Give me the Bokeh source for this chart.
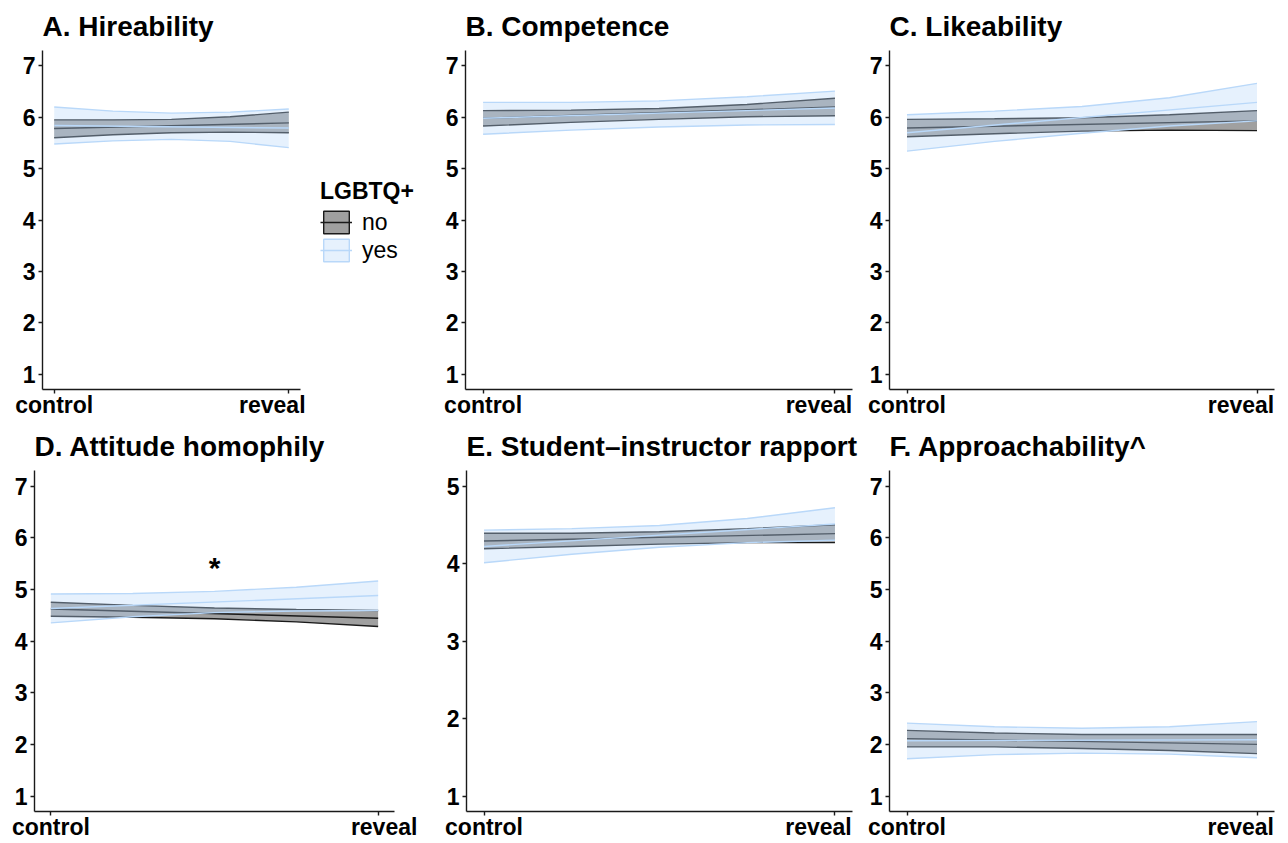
import numpy as np
from bokeh.plotting import figure
from bokeh.models import Range1d, FixedTicker, CustomJSTickFormatter, Legend, LegendItem
from bokeh.layouts import row, column
from bokeh.embed import file_html
from bokeh.resources import INLINE
from bokeh.core.properties import value

# ---------------- data ----------------
x_labels = ["control", "reveal"]
band_x = [0.0, 0.25, 0.5, 0.75, 1.0]
mean_x = [0.0, 1.0]
groups = ["no", "yes"]
legend_title = "LGBTQ+"

titles = ["A. Hireability", "B. Competence", "C. Likeability",
          "D. Attitude homophily", "E. Student\u2013instructor rapport", "F. Approachability^"]

y_ticks_7 = [1, 2, 3, 4, 5, 6, 7]
y_ticks_5 = [1, 2, 3, 4, 5]

# A. Hireability
a_no_lo = [5.60, 5.66, 5.70, 5.71, 5.70]
a_no_hi = [5.95, 5.95, 5.96, 6.01, 6.10]
a_no_mean = [5.78, 5.89]
a_yes_lo = [5.48, 5.54, 5.57, 5.53, 5.41]
a_yes_hi = [6.20, 6.12, 6.08, 6.10, 6.16]
a_yes_mean = [5.84, 5.79]

# B. Competence
b_no_lo = [5.83, 5.90, 5.96, 6.01, 6.03]
b_no_hi = [6.13, 6.14, 6.17, 6.25, 6.37]
b_no_mean = [5.98, 6.20]
b_yes_lo = [5.67, 5.75, 5.81, 5.85, 5.86]
b_yes_hi = [6.29, 6.29, 6.32, 6.40, 6.51]
b_yes_mean = [5.98, 6.18]

# C. Likeability
c_no_lo = [5.62, 5.68, 5.73, 5.75, 5.74]
c_no_hi = [5.96, 5.97, 5.99, 6.05, 6.13]
c_no_mean = [5.79, 5.93]
c_yes_lo = [5.34, 5.53, 5.69, 5.83, 5.93]
c_yes_hi = [6.05, 6.12, 6.21, 6.38, 6.66]
c_yes_mean = [5.70, 6.29]

# D. Attitude homophily
d_no_lo = [4.48, 4.46, 4.43, 4.37, 4.28]
d_no_hi = [4.75, 4.69, 4.64, 4.61, 4.59]
d_no_mean = [4.62, 4.44]
d_yes_lo = [4.35, 4.47, 4.55, 4.58, 4.59]
d_yes_hi = [4.91, 4.92, 4.96, 5.04, 5.16]
d_yes_mean = [4.63, 4.88]

# E. Student-instructor rapport
e_no_lo = [4.19, 4.22, 4.25, 4.27, 4.27]
e_no_hi = [4.39, 4.39, 4.41, 4.45, 4.50]
e_no_mean = [4.29, 4.385]
e_yes_lo = [4.01, 4.12, 4.21, 4.27, 4.30]
e_yes_hi = [4.43, 4.45, 4.49, 4.58, 4.72]
e_yes_mean = [4.22, 4.51]

# F. Approachability
f_no_lo = [1.95, 1.95, 1.92, 1.88, 1.82]
f_no_hi = [2.27, 2.22, 2.19, 2.19, 2.19]
f_no_mean = [2.11, 2.00]
f_yes_lo = [1.72, 1.80, 1.83, 1.81, 1.74]
f_yes_hi = [2.41, 2.34, 2.31, 2.34, 2.44]
f_yes_mean = [2.07, 2.09]

# significance marker in panel D
star_text = "*"
star_x = 0.5
star_y = 5.5

panels = [
    dict(title=titles[0], ticks=y_ticks_7, no=(a_no_lo, a_no_hi, a_no_mean), yes=(a_yes_lo, a_yes_hi, a_yes_mean)),
    dict(title=titles[1], ticks=y_ticks_7, no=(b_no_lo, b_no_hi, b_no_mean), yes=(b_yes_lo, b_yes_hi, b_yes_mean)),
    dict(title=titles[2], ticks=y_ticks_7, no=(c_no_lo, c_no_hi, c_no_mean), yes=(c_yes_lo, c_yes_hi, c_yes_mean)),
    dict(title=titles[3], ticks=y_ticks_7, no=(d_no_lo, d_no_hi, d_no_mean), yes=(d_yes_lo, d_yes_hi, d_yes_mean)),
    dict(title=titles[4], ticks=y_ticks_5, no=(e_no_lo, e_no_hi, e_no_mean), yes=(e_yes_lo, e_yes_hi, e_yes_mean)),
    dict(title=titles[5], ticks=y_ticks_7, no=(f_no_lo, f_no_hi, f_no_mean), yes=(f_yes_lo, f_yes_hi, f_yes_mean)),
]

# ---------------- style / layout ----------------
FONT = "Liberation Sans"
GREY_FILL = "#a0a0a0"
DARK = "#1a1a1a"
BLUE = "#b9d8f9"
BLUE_ALPHA = 0.36
LW = 1.4

# width, height, left, right, top, bottom borders, reveal label shift (px)
geom = [
    (308, 420, 42, 8, 47, 30, -16.5),
    (430, 420, 35, 8, 47, 30, -16.0),
    (426, 420, 29, 12, 47, 30, -16.0),
    (430, 422, 34, 36, 50, 29, 6.0),
    (430, 422, 36, 8, 50, 29, -16.5),
    (426, 422, 29, 12, 50, 29, -16.3),
]


def make_panel(idx):
    spec = panels[idx]
    w, h, bl, br, bt, bb, shift = geom[idx]
    frame_w = w - bl - br
    ticks = spec["ticks"]
    pad = (ticks[-1] - ticks[0]) * 0.05
    xr = Range1d(-0.05, 1.05)
    yr = Range1d(ticks[0] - pad, ticks[-1] + pad)
    p = figure(width=w, height=h, x_range=xr, y_range=yr,
               output_backend="svg", toolbar_location=None,
               min_border_left=bl, min_border_right=br,
               min_border_top=bt, min_border_bottom=bb)
    p.grid.visible = False
    p.outline_line_color = None
    p.background_fill_color = "white"
    p.border_fill_color = "white"

    p.title.text = spec["title"]
    p.title.text_font = FONT
    p.title.text_font_size = "28px"
    p.title.text_font_style = "bold"
    p.title.text_color = "black"
    p.title.align = "left"
    p.title.offset = 0
    p.title.standoff = 17

    lo, hi, mn = spec["no"]
    p.varea(x=band_x, y1=lo, y2=hi, fill_color=GREY_FILL, fill_alpha=1.0)
    p.line(x=band_x, y=lo, line_color=DARK, line_width=LW)
    p.line(x=band_x, y=hi, line_color=DARK, line_width=LW)
    p.line(x=mean_x, y=mn, line_color=DARK, line_width=LW)

    lo, hi, mn = spec["yes"]
    p.varea(x=band_x, y1=lo, y2=hi, fill_color=BLUE, fill_alpha=BLUE_ALPHA)
    p.line(x=band_x, y=lo, line_color=BLUE, line_width=LW)
    p.line(x=band_x, y=hi, line_color=BLUE, line_width=LW)
    p.line(x=mean_x, y=mn, line_color=BLUE, line_width=LW)

    ppu = frame_w / 1.1
    reveal_pos = 1.0 + shift / ppu
    xa = p.xaxis[0]
    xa.ticker = FixedTicker(ticks=[0.0, reveal_pos], minor_ticks=[0.0, 1.0])
    xa.formatter = CustomJSTickFormatter(args=dict(labels=x_labels),
                                         code="return labels[index];")
    ya = p.yaxis[0]
    ya.ticker = FixedTicker(ticks=ticks)
    for ax in (xa, ya):
        ax.axis_label = None
        ax.axis_line_color = DARK
        ax.axis_line_width = LW
        ax.major_tick_in = 0
        ax.major_tick_out = 4
        ax.major_tick_line_color = DARK
        ax.major_tick_line_width = LW
        ax.minor_tick_in = 0
        ax.minor_tick_out = 0
        ax.major_label_text_font = FONT
        ax.major_label_text_font_size = "23px"
        ax.major_label_text_font_style = "bold"
        ax.major_label_text_color = "black"
    xa.major_tick_line_color = None
    xa.minor_tick_out = 4
    xa.minor_tick_line_color = DARK
    xa.minor_tick_line_width = LW
    xa.major_label_standoff = -2
    ya.major_label_standoff = 3

    if idx == 3:
        p.text(x=[star_x], y=[star_y], text=[star_text], text_font=value(FONT),
               text_font_size="30px", text_font_style="bold", text_color="black",
               text_align="center", text_baseline="middle", y_offset=4)
    return p


def make_legend_fig():
    w, h = 122, 420
    p = figure(width=w, height=h, x_range=Range1d(0, 1), y_range=Range1d(0, 1),
               output_backend="svg", toolbar_location=None,
               min_border_left=0, min_border_right=0, min_border_top=0, min_border_bottom=0)
    p.axis.visible = False
    p.grid.visible = False
    p.outline_line_color = None
    empty = np.array([np.nan])
    q_no = p.quad(left=empty, right=empty, top=empty, bottom=empty, fill_color=GREY_FILL,
                  line_color=DARK, line_width=LW)
    l_no = p.line(x=empty, y=empty, line_color=DARK, line_width=LW)
    q_yes = p.quad(left=empty, right=empty, top=empty, bottom=empty, fill_color=BLUE,
                   fill_alpha=BLUE_ALPHA, line_color=BLUE, line_width=LW)
    l_yes = p.line(x=empty, y=empty, line_color=BLUE, line_width=LW)
    legend = Legend(items=[LegendItem(label=groups[0], renderers=[q_no, l_no]),
                           LegendItem(label=groups[1], renderers=[q_yes, l_yes])],
                    location=(12, 125),
                    title=legend_title,
                    title_text_font=FONT, title_text_font_size="23px",
                    title_text_font_style="bold", title_standoff=3,
                    label_text_font=FONT, label_text_font_size="23px",
                    label_text_color="black", title_text_color="black",
                    glyph_width=32, glyph_height=28, label_height=23,
                    label_standoff=10, spacing=-5, padding=0, margin=0,
                    border_line_color=None, background_fill_alpha=0)
    p.add_layout(legend)
    return p


figs = [make_panel(i) for i in range(6)]
leg = make_legend_fig()
layout = column(row(figs[0], leg, figs[1], figs[2]), row(figs[3], figs[4], figs[5]))

open("out.html", "w").write(file_html(layout, INLINE))
